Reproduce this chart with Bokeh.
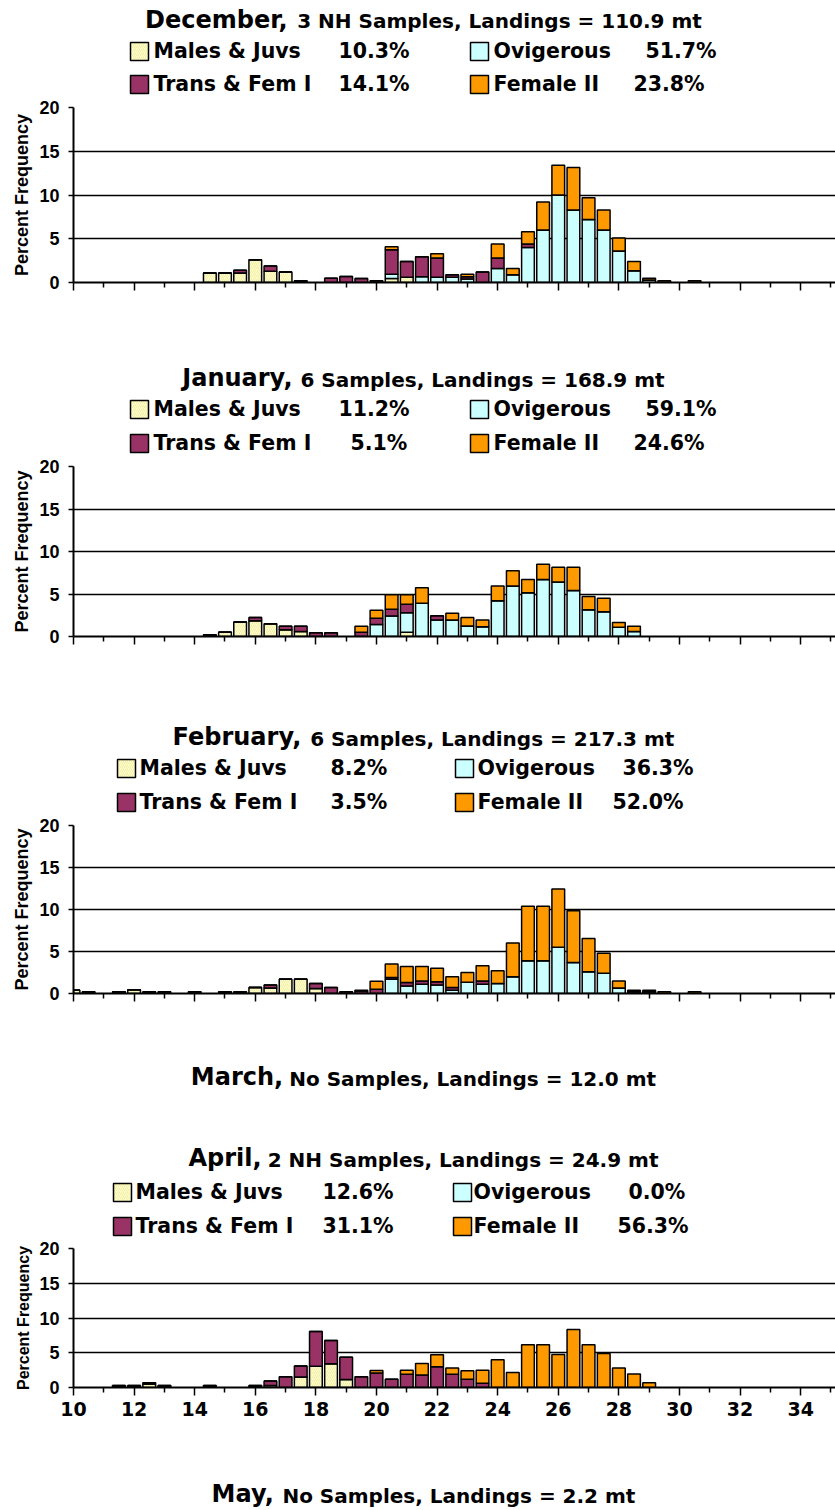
from bokeh.plotting import figure
from bokeh.layouts import column
from bokeh.models import Range1d, FixedTicker, ColumnDataSource
from bokeh.core.properties import value
from bokeh.transform import stack
from bokeh.embed import file_html
from bokeh.resources import INLINE

# ---------------- data ----------------
size_mm = [10.0, 10.5, 11.0, 11.5, 12.0, 12.5, 13.0, 13.5, 14.0, 14.5,
           15.0, 15.5, 16.0, 16.5, 17.0, 17.5, 18.0, 18.5, 19.0, 19.5,
           20.0, 20.5, 21.0, 21.5, 22.0, 22.5, 23.0, 23.5, 24.0, 24.5,
           25.0, 25.5, 26.0, 26.5, 27.0, 27.5, 28.0, 28.5, 29.0, 29.5,
           30.0, 30.5]

dec_males = [0, 0, 0, 0, 0, 0, 0, 0, 0, 1.1,
             1.1, 1.1, 2.6, 1.3, 1.2, 0.1, 0, 0, 0, 0,
             0, 0.45, 0.6, 0, 0, 0, 0, 0, 0, 0,
             0, 0, 0, 0, 0, 0, 0, 0, 0, 0,
             0, 0]
dec_ovig = [0, 0, 0, 0, 0, 0, 0, 0, 0, 0,
            0, 0, 0, 0, 0, 0, 0, 0, 0, 0,
            0, 0.5, 0, 0.65, 0.6, 0.6, 0.4, 0, 1.6, 0.9,
            4.0, 6.0, 10.0, 8.3, 7.2, 6.0, 3.6, 1.35, 0.3, 0,
            0, 0]
dec_trans = [0, 0, 0, 0, 0, 0, 0, 0, 0, 0,
             0, 0.3, 0, 0.6, 0, 0.1, 0, 0.5, 0.7, 0.45,
             0.2, 2.8, 1.8, 2.3, 2.2, 0.3, 0.25, 1.2, 1.2, 0,
             0.4, 0, 0, 0, 0, 0, 0, 0, 0, 0,
             0, 0]
dec_fem2 = [0, 0, 0, 0, 0, 0, 0, 0, 0, 0,
            0, 0, 0, 0, 0, 0, 0, 0, 0, 0,
            0, 0.35, 0, 0, 0.5, 0, 0.3, 0, 1.6, 0.7,
            1.4, 3.2, 3.4, 4.85, 2.5, 2.3, 1.5, 1.05, 0.2, 0.2,
            0, 0.2]

jan_males = [0, 0, 0, 0, 0, 0, 0, 0, 0, 0.2,
             0.5, 1.7, 1.85, 1.5, 0.8, 0.6, 0, 0, 0, 0,
             0, 0, 0.5, 0, 0, 0, 0, 0, 0, 0,
             0, 0, 0, 0, 0, 0, 0, 0, 0, 0,
             0, 0]
jan_ovig = [0, 0, 0, 0, 0, 0, 0, 0, 0, 0,
            0, 0, 0, 0, 0, 0, 0, 0, 0, 0,
            1.4, 2.4, 2.3, 3.9, 1.95, 1.95, 1.25, 1.15, 4.2, 5.95,
            5.15, 6.7, 6.4, 5.4, 3.15, 2.9, 1.1, 0.6, 0, 0,
            0, 0]
jan_trans = [0, 0, 0, 0, 0, 0, 0, 0, 0, 0,
             0, 0, 0.4, 0, 0.4, 0.6, 0.45, 0.45, 0, 0.5,
             0.75, 0.8, 1.0, 0, 0.5, 0, 0, 0, 0, 0,
             0, 0, 0, 0, 0, 0, 0, 0, 0, 0,
             0, 0]
jan_fem2 = [0, 0, 0, 0, 0, 0, 0, 0, 0, 0,
            0, 0, 0, 0, 0, 0, 0, 0, 0, 0.7,
            0.95, 1.7, 1.1, 1.85, 0, 0.8, 1.0, 0.8, 1.75, 1.8,
            1.55, 1.8, 1.75, 2.75, 1.55, 1.6, 0.55, 0.6, 0, 0,
            0, 0]

feb_males = [0.4, 0.2, 0, 0.2, 0.45, 0.2, 0.2, 0, 0.2, 0,
             0.1, 0.1, 0.7, 0.65, 1.7, 1.7, 0.6, 0, 0, 0,
             0, 0, 0, 0, 0, 0, 0, 0, 0, 0,
             0, 0, 0, 0, 0, 0, 0, 0, 0, 0,
             0, 0]
feb_ovig = [0, 0, 0, 0, 0, 0, 0, 0, 0, 0,
            0, 0, 0, 0, 0, 0, 0, 0, 0, 0,
            0, 1.7, 0.9, 1.1, 1.0, 0.4, 1.35, 1.1, 1.2, 2.0,
            3.9, 3.9, 5.5, 3.7, 2.6, 2.4, 0.65, 0.2, 0.2, 0,
            0, 0]
feb_trans = [0, 0, 0, 0, 0, 0, 0, 0, 0, 0,
             0.1, 0.1, 0, 0.35, 0, 0, 0.6, 0.7, 0.2, 0.3,
             0.5, 0.2, 0.4, 0.4, 0.4, 0.3, 0, 0.4, 0, 0,
             0, 0, 0, 0, 0, 0, 0, 0, 0, 0,
             0, 0]
feb_fem2 = [0, 0, 0, 0, 0, 0, 0, 0, 0, 0,
            0, 0, 0, 0, 0, 0, 0, 0, 0, 0.1,
            0.95, 1.6, 1.9, 1.7, 1.6, 1.3, 1.15, 1.8, 1.5, 4.0,
            6.5, 6.5, 6.95, 6.15, 3.95, 2.4, 0.85, 0.2, 0.2, 0.2,
            0, 0.2]

apr_males = [0, 0, 0, 0.1, 0.1, 0.5, 0.1, 0, 0, 0.1,
             0, 0, 0.1, 0.3, 0, 1.5, 3.05, 3.4, 1.15, 0,
             0, 0, 0, 0, 0, 0, 0, 0, 0, 0,
             0, 0, 0, 0, 0, 0, 0, 0, 0, 0,
             0, 0]
apr_ovig = [0] * 42
apr_trans = [0, 0, 0, 0.2, 0.2, 0.2, 0.2, 0, 0, 0.2,
             0, 0, 0.2, 0.65, 1.55, 1.6, 5.0, 3.35, 3.2, 1.55,
             2.1, 1.2, 1.9, 1.8, 3.0, 1.9, 1.2, 0.6, 0, 0,
             0, 0, 0, 0, 0, 0, 0, 0, 0, 0,
             0, 0]
apr_fem2 = [0, 0, 0, 0, 0, 0, 0, 0, 0, 0,
            0, 0, 0, 0, 0, 0, 0, 0, 0, 0,
            0.35, 0, 0.6, 1.65, 1.7, 0.9, 1.2, 1.9, 4.0, 2.15,
            6.15, 6.15, 4.75, 8.35, 6.15, 4.9, 2.8, 1.95, 0.7, 0,
            0, 0]

category_names = ["Males & Juvs", "Trans & Fem I", "Ovigerous", "Female II"]
dec_pct = ["10.3%", "14.1%", "51.7%", "23.8%"]
jan_pct = ["11.2%", "5.1%", "59.1%", "24.6%"]
feb_pct = ["8.2%", "3.5%", "36.3%", "52.0%"]
apr_pct = ["12.6%", "31.1%", "0.0%", "56.3%"]

titles = [("December,", "3 NH Samples, Landings = 110.9 mt"),
          ("January,", "6 Samples, Landings = 168.9 mt"),
          ("February,", "6 Samples, Landings = 217.3 mt"),
          ("March,", "No Samples, Landings = 12.0 mt"),
          ("April,", "2 NH Samples, Landings = 24.9 mt"),
          ("May,", "No Samples, Landings = 2.2 mt")]

x_major = [10, 12, 14, 16, 18, 20, 22, 24, 26, 28, 30, 32, 34]
x_minor = [11, 13, 15, 17, 19, 21, 23, 25, 27, 29, 31, 33, 35]
y_ticks = [0, 5, 10, 15, 20]

# ---------------- styles ----------------
C_MALE = "#FFFFCC"
C_OVIG = "#CCFFFF"
C_TRANS = "#993366"
C_FEM2 = "#FF9900"
HEAD_FONT = "DejaVu Sans"
AX_FONT = "Liberation Sans"
W = 835
LEFT = 73

# approximate advance widths (em) for DejaVu Sans Bold, used to centre titles
_cw = {' ': .348, ',': .381, '.': .381, '=': .838, '&': .872, '%': 1.002,
       'A': .774, 'D': .830, 'F': .683, 'H': .837, 'I': .372, 'J': .372,
       'L': .637, 'M': .995, 'N': .837, 'S': .720, 'O': .850, 'T': .682,
       'a': .675, 'b': .716, 'c': .593, 'd': .716, 'e': .678, 'g': .716,
       'h': .712, 'i': .343, 'l': .343, 'm': 1.042, 'n': .712, 'o': .687,
       'p': .716, 'r': .493, 's': .595, 't': .478, 'u': .712, 'v': .652,
       'y': .652, 'q': .716}


def tw(s, size):
    return sum(_cw.get(ch, .696) for ch in s) * size


def header(height):
    p = figure(width=W, height=height, x_range=Range1d(LEFT, W), y_range=Range1d(height, 0),
               x_axis_type=None, y_axis_type=None, min_border=0, min_border_left=LEFT,
               min_border_right=0, toolbar_location=None,
               output_backend="svg", outline_line_color=None)
    p.background_fill_color = "white"
    p.border_fill_color = "white"
    return p


def put_text(p, x, baseline, s, size):
    # text drawn with a 'middle' baseline; shift from the wanted alphabetic baseline
    p.text(x=[x], y=[baseline - 0.35 * size], text=[s], text_font=value(HEAD_FONT),
           text_font_style="bold", text_font_size=value("%gpx" % size),
           text_baseline="middle", text_align="left", text_color="black")


def add_title(p, top, idx, base_y):
    month, rest = titles[idx]
    w1 = tw(month, 24)
    w2 = tw(rest, 20)
    gap = 6
    x0 = 423 - (w1 + gap + w2) / 2
    put_text(p, x0, base_y - top, month, 24)
    put_text(p, x0 + w1 + gap, base_y - top, rest, 20)


def add_legend(p, top, pcts, rows, col_box, col_text, pct_x):
    colors = [C_MALE, C_TRANS, C_OVIG, C_FEM2]
    for k in range(4):
        col = k // 2
        row = k % 2
        yb = rows[row] - top
        bx = col_box[col]
        kw = dict(left=[bx], right=[bx + 18], top=[yb - 16], bottom=[yb + 2],
                  fill_color=colors[k], line_color="black", line_width=1.5)
        if k == 0:
            kw.update(hatch_pattern="/", hatch_color="#E6DC8A", hatch_weight=0.6,
                      hatch_scale=4, hatch_alpha=0.9)
        p.quad(**kw)
        put_text(p, col_text[col], yb, category_names[k], 20.5)
        put_text(p, pct_x[k], yb, pcts[k], 20.5)


def panel(height, btop, bbottom, males, ovig, trans, fem2, show_labels, ylab_size):
    p = figure(width=W, height=height, x_range=Range1d(10, 35.15), y_range=Range1d(0, 20),
               toolbar_location=None, output_backend="svg",
               min_border_left=LEFT, min_border_right=0, min_border_top=btop,
               min_border_bottom=bbottom)
    p.outline_line_color = None
    p.background_fill_color = "white"
    p.border_fill_color = "white"

    xs, m, o, t, f = [], [], [], [], []
    for i in range(len(size_mm)):
        if males[i] + ovig[i] + trans[i] + fem2[i] > 0:
            xs.append(size_mm[i]); m.append(males[i]); o.append(ovig[i])
            t.append(trans[i]); f.append(fem2[i])
    src = ColumnDataSource(dict(x=xs, males=m, ovig=o, trans=t, fem2=f))
    bw = 0.42
    p.vbar(x="x", width=bw, bottom=stack(), top=stack("males"), source=src,
           fill_color=C_MALE, line_color="black", line_width=1.5,
           hatch_pattern="/", hatch_color="#E6DC8A", hatch_weight=0.6, hatch_scale=4,
           hatch_alpha=0.9)
    p.vbar(x="x", width=bw, bottom=stack("males"), top=stack("males", "ovig"), source=src,
           fill_color=C_OVIG, line_color="black", line_width=1.5)
    p.vbar(x="x", width=bw, bottom=stack("males", "ovig"), top=stack("males", "ovig", "trans"),
           source=src, fill_color=C_TRANS, line_color="black", line_width=1.5)
    p.vbar(x="x", width=bw, bottom=stack("males", "ovig", "trans"),
           top=stack("males", "ovig", "trans", "fem2"), source=src,
           fill_color=C_FEM2, line_color="black", line_width=1.5)

    p.xgrid.grid_line_color = None
    p.ygrid.ticker = FixedTicker(ticks=y_ticks)
    p.ygrid.grid_line_color = "black"
    p.ygrid.grid_line_width = 1.5

    ya = p.yaxis[0]
    ya.ticker = FixedTicker(ticks=y_ticks)
    ya.axis_line_color = "black"
    ya.axis_line_width = 2
    ya.major_tick_out = 5
    ya.major_tick_in = 0
    ya.minor_tick_line_color = None
    ya.major_tick_line_width = 1.5
    ya.major_label_text_font = AX_FONT
    ya.major_label_text_font_style = "bold"
    ya.major_label_text_font_size = "18px"
    ya.major_label_text_color = "black"
    ya.major_label_standoff = 9
    ya.axis_label = "Percent Frequency"
    ya.axis_label_text_font = AX_FONT
    ya.axis_label_text_font_style = "bold"
    ya.axis_label_text_font_size = ylab_size
    ya.axis_label_text_color = "black"
    ya.axis_label_standoff = 4

    xa = p.xaxis[0]
    xa.ticker = FixedTicker(ticks=x_major, minor_ticks=x_minor)
    xa.axis_line_color = "black"
    xa.axis_line_width = 2
    xa.major_tick_out = 8
    xa.major_tick_in = 0
    xa.minor_tick_out = 5
    xa.minor_tick_in = 0
    xa.major_tick_line_width = 1.5
    xa.minor_tick_line_width = 1.5
    xa.minor_tick_line_color = "black"
    if show_labels:
        xa.major_label_text_font = HEAD_FONT
        xa.major_label_text_font_style = "bold"
        xa.major_label_text_font_size = "19px"
        xa.major_label_text_color = "black"
        xa.major_label_standoff = 6
    else:
        xa.major_label_text_font_size = "0px"
        xa.major_label_text_color = None
    return p


# ---------------- build ----------------
# December
h1_top, h1_h = 0, 97
h1 = header(h1_h)
add_title(h1, h1_top, 0, 27.5)
add_legend(h1, h1_top, dec_pct, [58, 91], [130, 470], [153, 493], [338, 338, 645, 633])
p1 = panel(203, 10, 18, dec_males, dec_ovig, dec_trans, dec_fem2, False, "18px")

# January
h2_top, h2_h = 300, 156
h2 = header(h2_h)
add_title(h2, h2_top, 1, 386)
add_legend(h2, h2_top, jan_pct, [416, 450], [130, 470], [153, 493], [338, 350, 645, 633])
p2 = panel(204, 10, 24, jan_males, jan_ovig, jan_trans, jan_fem2, False, "18px")

# February
h3_top, h3_h = 660, 155
h3 = header(h3_h)
add_title(h3, h3_top, 2, 745)
add_legend(h3, h3_top, feb_pct, [775, 809], [117, 455], [139, 477], [330, 330, 622, 612])
p3 = panel(200, 10, 22, feb_males, feb_ovig, feb_trans, feb_fem2, False, "18px")

# March (no samples) + April header
h4_top, h4_h = 1015, 223
h4 = header(h4_h)
add_title(h4, h4_top, 3, 1085)
add_title(h4, h4_top, 4, 1166)
add_legend(h4, h4_top, apr_pct, [1199, 1233], [113, 453], [135, 473], [322, 322, 628, 617])
p4 = panel(192, 10, 43, apr_males, apr_ovig, apr_trans, apr_fem2, True, "16px")

# May (no samples)
h5_top, h5_h = 1430, 80
h5 = header(h5_h)
add_title(h5, h5_top, 5, 1502)

layout = column(h1, p1, h2, p2, h3, p3, h4, p4, h5, spacing=0)

open("out.html", "w").write(file_html(layout, INLINE))
